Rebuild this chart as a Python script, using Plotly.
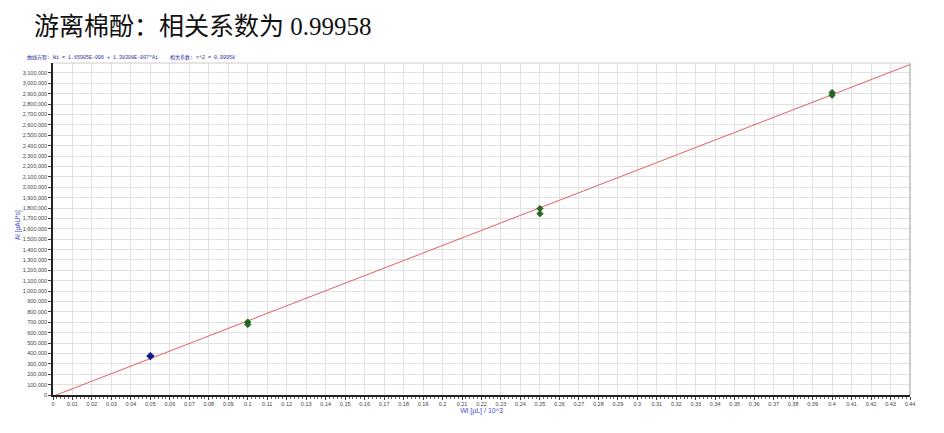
import plotly.graph_objects as go

# Data
std_blue_x = [0.05]
std_blue_y = [375000]
std_green_x = [0.1, 0.1, 0.25, 0.25, 0.4, 0.4]
std_green_y = [702000, 678000, 1795000, 1745000, 2912000, 2885000]
fit_x = [0.0, 0.44]
fit_y = [-12000, 3181000]

title_text = "游离棉酚：相关系数为 0.99958"
eq_text = "曲线方程: Wi = 1.65905E-006 + 1.38308E-007*Ai"
r2_text = "相关系数: r^2 = 0.99958"
x_title = "Wl [µL] / 10^3"
y_title = "Al [µAU*s]"

W, H = 944, 433
L, R, T, B = 53, 34, 63, 38
PW, PH = W - L - R, H - T - B


def px_x(x):
    return (x - L) / PW


def px_y(y):
    return (H - B - y) / PH


fig = go.Figure()
fig.add_trace(go.Scatter(x=fit_x, y=fit_y, mode="lines",
                         line=dict(color="#e06060", width=1), hoverinfo="skip",
                         showlegend=False))
fig.add_trace(go.Scatter(x=std_blue_x, y=std_blue_y, mode="markers",
                         marker=dict(color="#0a1a9a", size=6, symbol="diamond",
                                     line=dict(color="#001060", width=0.5)),
                         showlegend=False))
fig.add_trace(go.Scatter(x=std_green_x, y=std_green_y, mode="markers",
                         marker=dict(color="#1e6e1e", size=5, symbol="diamond",
                                     line=dict(color="#0a400a", width=0.5)),
                         showlegend=False))

fig.update_layout(
    width=W, height=H,
    margin=dict(l=L, r=R, t=T, b=B, pad=0, autoexpand=False),
    paper_bgcolor="white", plot_bgcolor="white",
    font=dict(family="Arial, Liberation Sans, sans-serif", size=6, color="#333333"),
    xaxis=dict(range=[0, 0.44], dtick=0.01, tick0=0, showgrid=True, automargin=False,
               gridcolor="#e2e2e2", gridwidth=1, zeroline=False,
               showline=True, linecolor="#222222", linewidth=1.5, mirror=False,
               ticks="outside", ticklen=3, tickcolor="#444444",
               tickfont=dict(size=5.5, color="#444444"),
               minor=dict(dtick=0.002, ticks="outside", ticklen=2, tickcolor="#666666",
                          showgrid=False),
               title=dict(text=x_title, font=dict(size=7, color="#4a4acc"), standoff=0)),
    yaxis=dict(range=[0, 3196000], dtick=100000, tick0=0, showgrid=True, automargin=False,
               gridcolor="#e2e2e2", gridwidth=1, zeroline=False,
               showline=True, linecolor="#222222", linewidth=1.5,
               ticks="outside", ticklen=3, tickcolor="#444444",
               tickformat=",d", tickfont=dict(size=5.5, color="#444444")),
    shapes=[
        dict(type="line", xref="paper", yref="paper", x0=1, x1=1, y0=0, y1=1,
             line=dict(color="#999999", width=1)),
        dict(type="line", xref="paper", yref="paper", x0=0, x1=1, y0=1, y1=1,
             line=dict(color="#cccccc", width=1)),
    ],
    annotations=[
        dict(text=title_text, xref="paper", yref="paper",
             x=px_x(32), y=px_y(27), xanchor="left", yanchor="middle", showarrow=False,
             font=dict(family="Liberation Serif, Noto Sans CJK SC, serif", size=25, color="#111111")),
        dict(text=eq_text, xref="paper", yref="paper",
             x=px_x(25), y=px_y(57), xanchor="left", yanchor="middle", showarrow=False,
             font=dict(family="Liberation Mono, Noto Sans CJK SC, monospace", size=5, color="#2a2a9a")),
        dict(text=r2_text, xref="paper", yref="paper",
             x=px_x(168), y=px_y(57), xanchor="left", yanchor="middle", showarrow=False,
             font=dict(family="Liberation Mono, Noto Sans CJK SC, monospace", size=5, color="#2a2a9a")),
        dict(text=y_title, xref="paper", yref="paper",
             x=px_x(18), y=px_y(225), xanchor="center", yanchor="middle", showarrow=False,
             textangle=-90,
             font=dict(size=6.5, color="#4a4acc")),
    ],
)

fig.write_html("out.html", config={"displayModeBar": False})

# remove the default page margin so the figure sits at the window's top-left corner
with open("out.html", "r", encoding="utf-8") as f:
    html = f.read()
html = html.replace("<head>", "<head><style>html,body{margin:0;padding:0;overflow:hidden}</style>", 1)
with open("out.html", "w", encoding="utf-8") as f:
    f.write(html)
